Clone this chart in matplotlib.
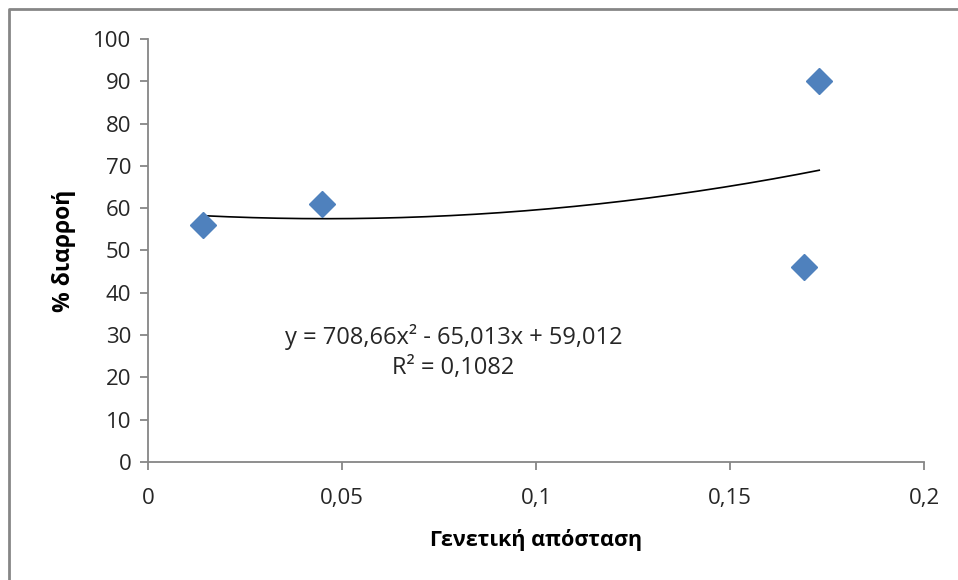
import numpy as np
import matplotlib.pyplot as plt
from matplotlib.lines import Line2D

plt.rcParams['font.family'] = ['Open Sans', 'DejaVu Sans']

distance = [0.0142, 0.0448, 0.169, 0.173]
leakage = [56, 61, 46, 90]
coef = [708.66, -65.013, 59.012]   # trendline a, b, c
r2 = 0.1082

x_ticks = [0, 0.05, 0.1, 0.15, 0.2]
x_labels = ['0', '0,05', '0,1', '0,15', '0,2']
y_ticks = list(range(0, 101, 10))

fig = plt.figure(figsize=(9.58, 5.8), dpi=100)
ax = fig.add_axes([148 / 958, 118 / 580, (924 - 148) / 958, (462 - 39) / 580])

# outer chart border, only left and top edges fall inside the picture
bx, by = 9 / 958, 1 - 9 / 580
fig.lines.append(Line2D([bx, bx, 1.0], [0, by, by], transform=fig.transFigure,
                        color='#868686', linewidth=2))

xs = np.linspace(min(distance), max(distance), 200)
ax.plot(xs, np.polyval(coef, xs), color='black', linewidth=1.2, zorder=2)
ax.plot(distance, leakage, linestyle='none', marker='D', markersize=13,
        color='#4F81BD', zorder=3)

ax.set_xlim(0, 0.2)
ax.set_ylim(0, 100)
ax.set_xticks(x_ticks)
ax.set_xticklabels(x_labels)
ax.set_yticks(y_ticks)

for side in ['top', 'right']:
    ax.spines[side].set_visible(False)
for side in ['left', 'bottom']:
    ax.spines[side].set_color('#868686')
    ax.spines[side].set_linewidth(1.3)
ax.tick_params(direction='out', length=6, width=1.3, color='#868686',
               labelsize=16, labelcolor='#262626', pad=6)
ax.tick_params(axis='x', pad=13)

ax.set_xlabel('Γενετική απόσταση', fontsize=15.5, fontweight='bold', labelpad=14)
ax.set_ylabel('% διαρροή', fontsize=16.5, fontweight='bold', labelpad=12)

eq = 'y = {:,}x² - {:,}x + {:,}'.format(coef[0], -coef[1], coef[2]).replace('.', ',')
ax.text(0.0787, 29.5, eq, ha='center', va='center', fontsize=17, color='#262626')
ax.text(0.0787, 22.2, 'R² = ' + str(r2).replace('.', ','), ha='center', va='center',
        fontsize=17, color='#262626')

fig.savefig('out.png', dpi=100)
